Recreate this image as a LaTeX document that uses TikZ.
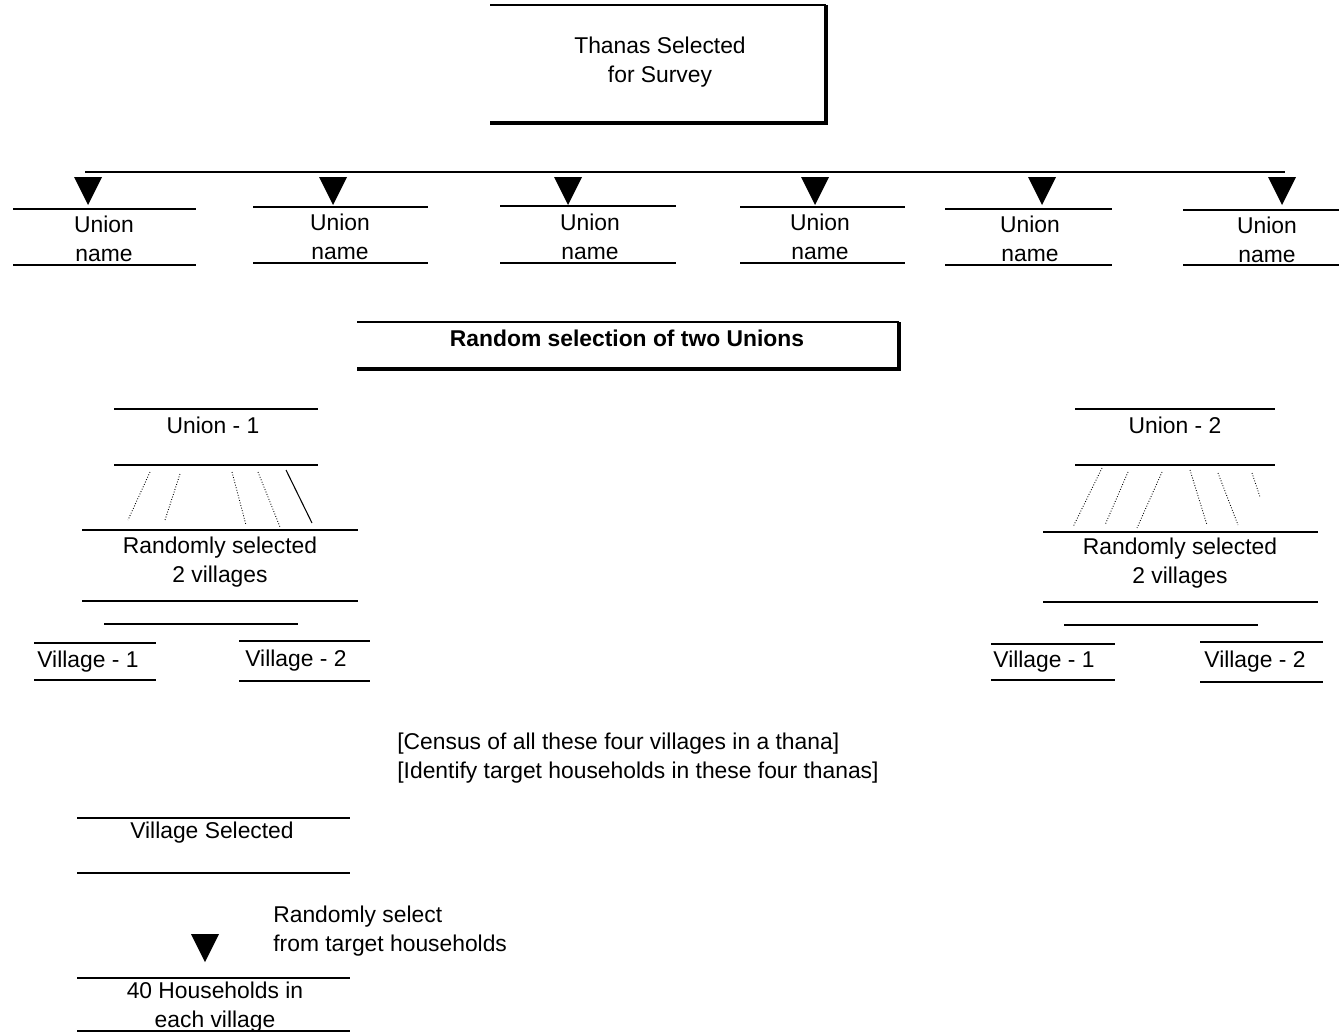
\documentclass[tikz,border=0pt]{standalone}
\usepackage{fontspec}
\setmainfont{Liberation Sans}

\begin{document}
\begin{tikzpicture}[x=0.02cm, y=-0.02cm, font=\fontsize{13}{16.5}\selectfont,
    rule/.style={line width=1pt},
    shadow/.style={line width=2.2pt},
    hatch/.style={line width=0.5pt, densely dotted},
    lbl/.style={inner sep=0pt, align=center}]

    \useasboundingbox (0,0) rectangle (1339,1034);

    % top box
    \draw[rule] (490,5) -- (826,5);
    \draw[shadow] (826,5) -- (826,123) -- (490,123);
    \node[lbl] (thanas) at (660,62) {Thanas Selected\\for Survey};

    \draw[rule] (85,172) -- (1285,172);
    \foreach \x in {88,333,568,815,1042,1282}
        \fill (\x-14,177) -- (\x+14,177) -- (\x,205) -- cycle;

    \foreach \l/\r/\t/\b/\m [count=\i] in {13/196/209/265/104, 253/428/207/263/340,
        500/676/206/263/590, 740/905/207/263/820, 945/1112/209/265/1030, 1183/1339/210/265/1267} {
        \draw[rule] (\l,\t) -- (\r,\t) (\l,\b) -- (\r,\b);
        \node[lbl] (union\i) at (\m,{(\t+\b)/2+2}) {Union\\name};
    }

    % random selection
    \draw[rule] (357,322) -- (899,322);
    \draw[shadow] (899,322) -- (899,369) -- (357,369);
    \node[lbl, font=\fontsize{13}{16.5}\selectfont\bfseries] (random) at (627,338) {Random selection of two Unions};

    % the two unions
    \draw[rule] (114,409) -- (318,409) (114,465) -- (318,465);
    \node[lbl] (sel1) at (213,425) {Union - 1};
    \draw[rule] (1075,409) -- (1275,409) (1075,465) -- (1275,465);
    \node[lbl] (sel2) at (1175,425) {Union - 2};

    \draw[hatch] (150,472) -- (128,520) (180,474) -- (165,520) (232,472) -- (246,525) (258,472) -- (280,527);
    \draw[line width=0.6pt] (286,470) -- (312,523);
    \draw[hatch] (1102,468) -- (1073,527) (1128,472) -- (1105,525) (1162,472) -- (1137,528)
        (1190,470) -- (1207,525) (1218,473) -- (1238,525) (1252,473) -- (1260,497);

    \draw[rule] (82,530) -- (358,530) (82,601) -- (358,601);
    \node[lbl] (rand1) at (220,562) {Randomly selected\\2 villages};
    \draw[rule] (1043,532) -- (1318,532) (1043,602) -- (1318,602);
    \node[lbl] (rand2) at (1180,563) {Randomly selected\\2 villages};

    \draw[rule] (104,624) -- (298,624);
    \draw[rule] (1064,625) -- (1258,625);

    \foreach \l/\r/\t/\b/\m/\txt [count=\i] in {34/156/643/680/88/Village - 1, 239/370/641/681/296/Village - 2,
        991/1115/644/680/1044/Village - 1, 1200/1323/642/682/1255/Village - 2} {
        \draw[rule] (\l,\t) -- (\r,\t) (\l,\b) -- (\r,\b);
        \node[lbl] (vil\i) at (\m,{(\t+\b)/2}) {\txt};
    }

    \node[lbl, align=left, anchor=west] (census) at (397,758)
        {{[}Census of all these four villages in a thana{]}\\{[}Identify target households in these four thanas{]}};

    % village level
    \draw[rule] (77,818) -- (350,818) (77,873) -- (350,873);
    \node[lbl] (vsel) at (212,833) {Village Selected};
    \fill (191,934) -- (219,934) -- (205,962) -- cycle;
    \node[lbl, align=left, anchor=west] (rsel) at (273,931) {Randomly select\\from target households};
    \draw[rule] (77,978) -- (350,978) (77,1031) -- (350,1031);
    \node[lbl] (hh) at (215,1007) {40 Households in\\each village};

\end{tikzpicture}
\end{document}
